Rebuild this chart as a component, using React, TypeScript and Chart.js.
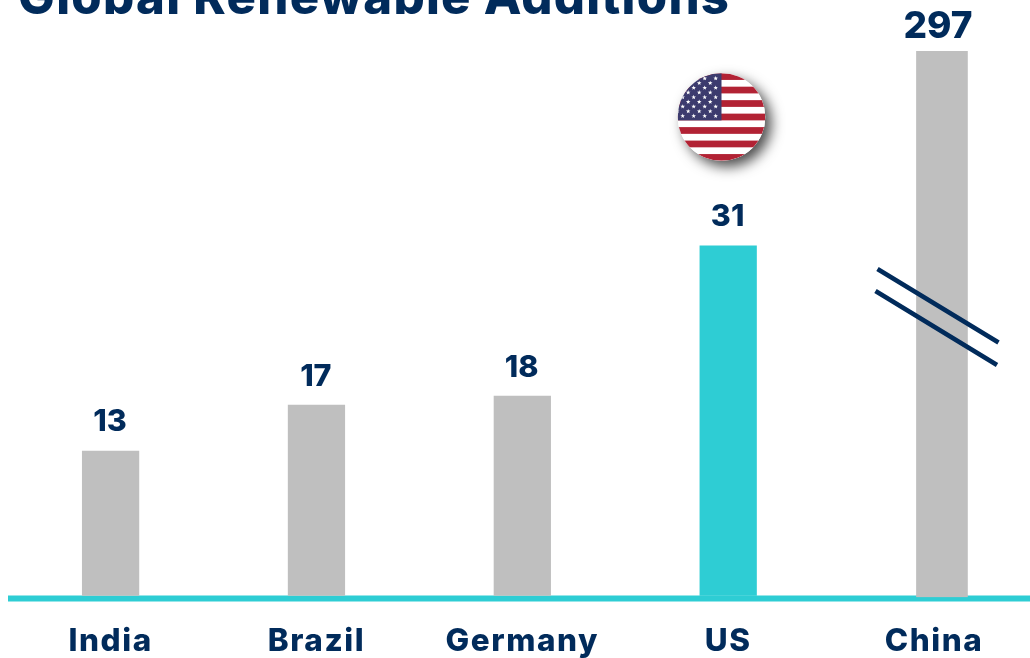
import React, { useEffect, useRef } from "react";
import { Chart, registerables } from "chart.js";

Chart.register(...registerables);

const titleText = "Global Renewable Additions";
const categories = ["India", "Brazil", "Germany", "US", "China"];
const barHeights = [12.9, 17.0, 17.8, 31.2, 297];
const barColors = ["#BFBFBF", "#BFBFBF", "#BFBFBF", "#2ECDD4", "#BFBFBF"];
const axisMax = 48.6;

const NAVY = "#012B5B";
const TEAL = "#2ECDD4";
const FONT = "Inter, 'Open Sans', sans-serif";

function starPath(ctx: CanvasRenderingContext2D, cx: number, cy: number, r: number) {
  ctx.beginPath();
  for (let i = 0; i < 10; i++) {
    const rad = i % 2 === 0 ? r : r * 0.42;
    const a = -Math.PI / 2 + (i * Math.PI) / 5;
    const x = cx + rad * Math.cos(a);
    const y = cy + rad * Math.sin(a);
    if (i === 0) ctx.moveTo(x, y);
    else ctx.lineTo(x, y);
  }
  ctx.closePath();
  ctx.fill();
}

function drawFlag(ctx: CanvasRenderingContext2D) {
  const cx = 721.5, cy = 117, r = 43.8;
  ctx.save();
  ctx.shadowColor = "rgba(0,0,0,0.7)";
  ctx.shadowBlur = 13;
  ctx.shadowOffsetX = 6;
  ctx.shadowOffsetY = 6;
  ctx.fillStyle = "#FFFFFF";
  ctx.beginPath();
  ctx.arc(cx, cy, r, 0, Math.PI * 2);
  ctx.fill();
  ctx.restore();

  ctx.save();
  ctx.beginPath();
  ctx.arc(cx, cy, r, 0, Math.PI * 2);
  ctx.clip();
  ctx.fillStyle = "#FFFFFF";
  ctx.fillRect(cx - r, cy - r, 2 * r, 2 * r);
  const h = (2 * r) / 13;
  ctx.fillStyle = "#B22234";
  for (let i = 0; i < 13; i += 2) ctx.fillRect(cx - r, cy - r + i * h, 2 * r, h);
  ctx.fillStyle = "#3C3B6E";
  ctx.fillRect(cx - r, cy - r, r, 7 * h);
  ctx.fillStyle = "#FFFFFF";
  for (let row = 0; row < 9; row++) {
    const y = 116 - 4.7 * (8 - row);
    const even = row % 2 === 0;
    for (let k = 0; k < 6; k++) {
      const x = (even ? 715.7 : 710.2) - 11 * k;
      starPath(ctx, x, y, 2.4);
    }
  }
  ctx.restore();
}

const decorPlugin = {
  id: "decor",
  afterDatasetsUpdate(chart: any) {
    const bar = chart.getDatasetMeta(0).data[4];
    bar.x += 7.9;
    bar.width = 51;
    bar.base = 597;
  },
  beforeDraw(chart: any) {
    chart.ctx.letterSpacing = "1.55px";
  },
  beforeDatasetsDraw(chart: any) {
    const { ctx, chartArea } = chart;
    ctx.save();
    ctx.fillStyle = TEAL;
    ctx.fillRect(8, chartArea.bottom, 1022, 6);
    ctx.restore();
  },
  afterDatasetsDraw(chart: any) {
    const { ctx } = chart;
    const meta = chart.getDatasetMeta(0);
    ctx.save();
    ctx.fillStyle = NAVY;
    ctx.textAlign = "center";
    ctx.textBaseline = "alphabetic";
    ctx.letterSpacing = "0px";
    barHeights.forEach((v, i) => {
      const el = meta.data[i];
      const top = Math.max(el.y, chart.chartArea.top);
      const isCut = v > axisMax;
      ctx.font = `800 ${isCut ? 37 : 30.5}px ${FONT}`;
      ctx.fillText(String(Math.round(v)), el.x - (isCut ? 4 : 0.6), top - (isCut ? 13 : 19.5));
    });
    // axis-break marks
    ctx.strokeStyle = NAVY;
    ctx.lineWidth = 4.6;
    ctx.beginPath();
    ctx.moveTo(877.5, 269);
    ctx.lineTo(998.5, 342.5);
    ctx.moveTo(875.5, 291);
    ctx.lineTo(997, 365);
    ctx.stroke();
    // title, cropped by the top of the picture
    ctx.textAlign = "left";
    ctx.font = `800 49px ${FONT}`;
    ctx.letterSpacing = "1.3px";
    ctx.fillText(titleText, 18, 14);
    ctx.restore();
    drawFlag(ctx);
  },
};

export default function App() {
  const ref = useRef<HTMLCanvasElement>(null);
  useEffect(() => {
    document.body.style.margin = "0";
    document.body.style.overflow = "hidden";
    const chart = new Chart(ref.current!, {
      type: "bar",
      data: {
        labels: categories,
        datasets: [
          {
            label: "Additions",
            data: barHeights,
            backgroundColor: barColors,
            barThickness: 56.6,
            clip: { left: 0, top: 0, right: 0, bottom: 2 },
          } as any,
        ],
      },
      options: {
        animation: false,
        responsive: false,
        layout: { padding: { top: 51, left: 7.65, right: 0, bottom: 0 } },
        plugins: { legend: { display: false }, tooltip: { enabled: false } },
        scales: {
          y: { display: false, min: 0, max: axisMax },
          x: {
            afterFit: (s: any) => {
              s.height = 62.5;
            },
            grid: { display: false, drawTicks: false },
            border: { display: false },
            ticks: {
              color: NAVY,
              font: { family: FONT, weight: "800", size: 31.5 },
              padding: 27,
              maxRotation: 0,
              autoSkip: false,
            },
          },
        },
      },
      plugins: [decorPlugin],
    });
    return () => chart.destroy();
  }, []);
  return (
    <div style={{ width: 1030, height: 658, overflow: "hidden", position: "relative" }}>
      <canvas ref={ref} width={1037} height={658} style={{ display: "block" }} />
    </div>
  );
}
